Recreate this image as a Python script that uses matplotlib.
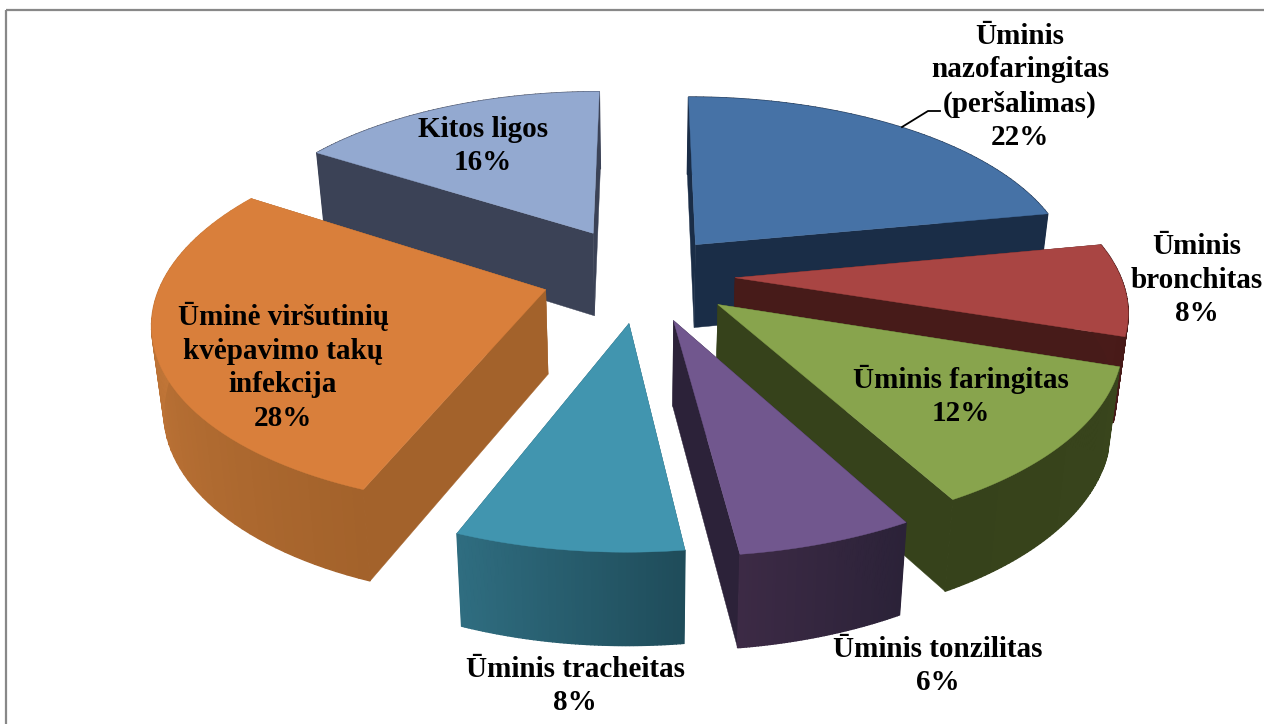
#!/usr/bin/python3

import numpy as np
import matplotlib
matplotlib.use("Agg")
import matplotlib.pyplot as plt
from matplotlib.colors import to_rgb

labels = ["Ūminis\nnazofaringitas\n(peršalimas)", "Ūminis\nbronchitas", "Ūminis faringitas",
          "Ūminis tonzilitas", "Ūminis tracheitas",
          "Ūminė viršutinių\nkvėpavimo takų\ninfekcija", "Kitos ligos"]
shares = [22, 8, 12, 6, 8, 28, 16]

top_colors = ["#4672a6", "#a94543", "#88a44d", "#71578e", "#4195af", "#d97f3b", "#93a9d0"]
# wall colours: start and end of the rim gradient, then the flat cut faces
rim_from = ["#1a2d47", "#4a1b19", "#39451c", "#2b2238", "#1f4c5a", "#a3622b", "#3b4256"]
rim_to = ["#1a2d47", "#471a18", "#36421b", "#3c2a45", "#2f6d80", "#d07f3e", "#3b4256"]
cut_colors = ["#1a2d47", "#471b19", "#36421b", "#2c2239", "#25596a", "#a3622b", "#3b4256"]

explode = [86, 93, 96, 98, 100, 100, 105]
radius = [380, 385, 388, 390, 378, 382, 370]
label_pos = [(1020, 87), (1197, 280), (961, 396), (938, 666), (575, 686), (283, 367), (483, 146)]

CX, CY = 642, 275
TILT = 0.47
PERSP = 0.0004
DEPTH = 84


def project(X, Y, z=0.0):
    """
    Map pie coordinates to pixels, z is 0 on the top face and 1 at the bottom
    """
    s = 1 / (1 + PERSP * Y)
    x = CX + X * s * (1 - 0.025 * z)
    y = CY - TILT * Y * s + DEPTH * s ** 0.5 * z
    return x, y


def mix(c1, c2, t):
    a, b = np.array(to_rgb(c1)), np.array(to_rgb(c2))
    return tuple(a + (b - a) * t)


def slice_geometry(a0, a1, e, r):
    mid = (a0 + a1) / 2
    ox, oy = e * np.sin(mid), e * np.cos(mid)
    t = np.linspace(a0, a1, 60)
    return ox, oy, ox + r * np.sin(t), oy + r * np.cos(t)


def draw_slice(ax, i, a0, a1):
    ox, oy, rx, ry = slice_geometry(a0, a1, explode[i], radius[i])

    # cut faces from the centre out to both rim ends
    for k in (0, -1):
        xa, ya = project(ox, oy, 0)
        xb, yb = project(rx[k], ry[k], 0)
        xc, yc = project(rx[k], ry[k], 1)
        xd, yd = project(ox, oy, 1)
        ax.fill([xa, xb, xc, xd], [ya, yb, yc, yd], color=cut_colors[i], lw=0.3)

    # outer wall as thin strips so the shading runs along the rim
    for j in range(len(rx) - 1):
        xs, ys = [], []
        for n, z in ((j, 0), (j + 1, 0), (j + 1, 1), (j, 1)):
            px, py = project(rx[n], ry[n], z)
            xs.append(px)
            ys.append(py)
        col = mix(rim_from[i], rim_to[i], j / (len(rx) - 2))
        ax.fill(xs, ys, color=col, lw=1.0)

    # top face
    xt, yt = project(np.r_[ox, rx], np.r_[oy, ry], 0)
    ax.fill(xt, yt, color=top_colors[i], lw=0.3)


fig = plt.figure(figsize=(12.64, 7.24), dpi=100)
ax = fig.add_axes([0, 0, 1, 1])
ax.set_xlim(0, 1264)
ax.set_ylim(724, 0)
ax.axis("off")

edges = np.radians(np.r_[0, np.cumsum(shares)] * 3.6)

# back slices first, front ones last
for i in [6, 0, 5, 1, 2, 4, 3]:
    draw_slice(ax, i, edges[i], edges[i + 1])

# chart frame
ax.plot([6, 6], [724, 10], color="#888888", lw=1.6, solid_capstyle="butt")
ax.plot([6, 1264], [10, 10], color="#888888", lw=1.6, solid_capstyle="butt")

# leader line of the first label
ax.plot([902, 928, 940], [127, 111, 111], color="black", lw=1.3)

for i in range(len(labels)):
    ax.text(label_pos[i][0], label_pos[i][1], "%s\n%d%%" % (labels[i], shares[i]),
            ha="center", va="center", family="Liberation Serif", weight="bold",
            fontsize=21, linespacing=1.32, color="black")

fig.savefig("out.png", dpi=100)
